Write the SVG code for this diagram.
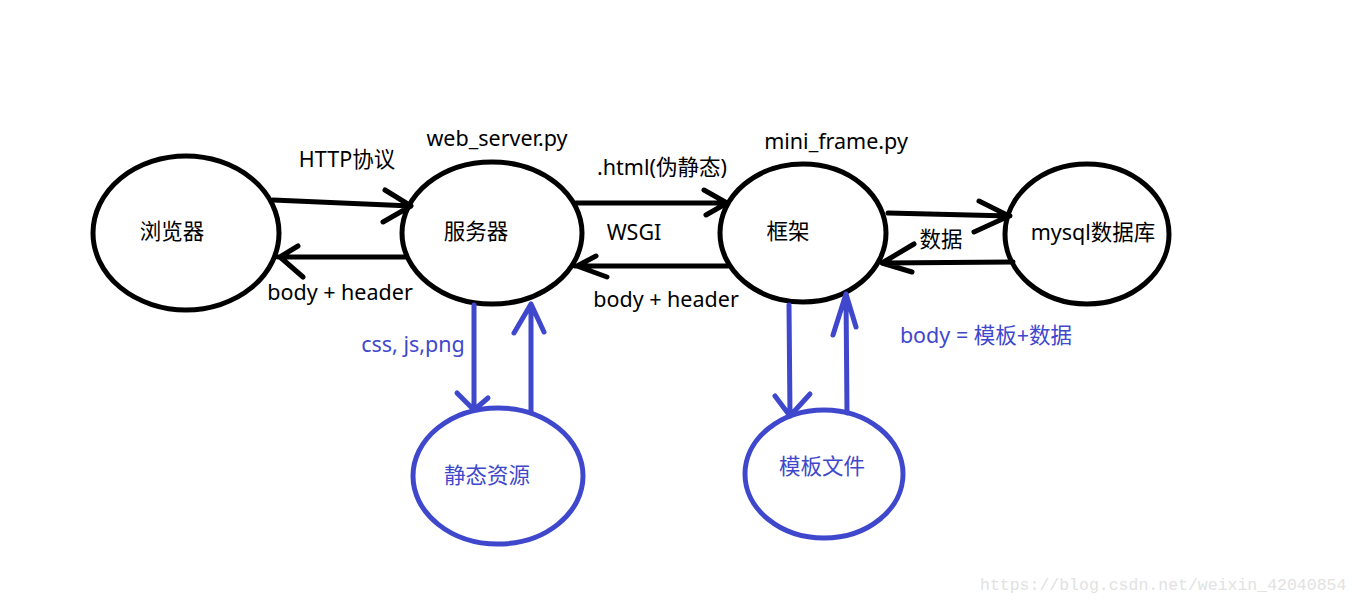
<svg xmlns="http://www.w3.org/2000/svg" width="1360" height="604" viewBox="0 0 1360 604">
<style>
.n{fill:none;stroke:#000;stroke-width:5}
.b{fill:none;stroke:#3f48cc;stroke-width:5}
.c{fill:none;stroke:#000;stroke-width:5;stroke-linecap:round;stroke-linejoin:round}
.cb{fill:none;stroke:#3f48cc;stroke-width:5;stroke-linecap:round;stroke-linejoin:round}
text{font-family:"Noto Sans","Noto Sans CJK SC",sans-serif;font-size:21.5px;fill:#000}
.t{fill:#3f48cc}
.w{font-family:"Liberation Mono",monospace;font-size:16.5px;fill:#e2e2e2}
</style>
<rect width="1360" height="604" fill="#fff"/>
<g id="browser"><ellipse class="n" cx="186" cy="233" rx="93" ry="77"/><text x="172" y="239" text-anchor="middle">浏览器</text></g>
<g id="server"><ellipse class="n" cx="492" cy="233" rx="90" ry="71"/><text x="476" y="239" text-anchor="middle">服务器</text><text x="497" y="146" text-anchor="middle">web_server.py</text></g>
<g id="frame"><ellipse class="n" cx="803" cy="233" rx="83" ry="69"/><text x="788" y="239" text-anchor="middle">框架</text><text x="836" y="149" text-anchor="middle">mini_frame.py</text></g>
<g id="mysql"><ellipse class="n" cx="1087" cy="234" rx="82" ry="70"/><text x="1093" y="240" text-anchor="middle">mysql数据库</text></g>
<g id="static"><ellipse class="b" cx="498" cy="476" rx="85" ry="68"/><text class="t" x="487" y="483" text-anchor="middle">静态资源</text></g>
<g id="template"><ellipse class="b" cx="824" cy="474" rx="79" ry="64"/><text class="t" x="822" y="474" text-anchor="middle">模板文件</text></g>
<g id="connectors">
<path class="c" d="M273 200 L411 206 M385 190 L411 206 L383 222"/>
<path class="c" d="M405 257 L278 257 M298 246 L280 257 L303 277"/>
<path class="c" d="M576 203 L727 203 M704 190 L727 203 L706 215"/>
<path class="c" d="M728 266 L575 266 M596 256 L577 266 L607 277"/>
<path class="c" d="M888 213 L1010 216 M979 201 L1009 216 L974 232"/>
<path class="c" d="M1013 262 L882 263 M914 244 L882 263 L912 272"/>
<path class="cb" d="M474 305 L474 410 M457 393 L474 410 L488 398"/>
<path class="cb" d="M531 412 L531 304 M514 333 L531 304 L544 332"/>
<path class="cb" d="M789 305 L790 416 M775 396 L790 416 L810 394"/>
<path class="cb" d="M847 413 L846 294 M833 335 L846 294 L856 327"/>
<text x="347" y="167" text-anchor="middle">HTTP协议</text>
<text x="340" y="300" text-anchor="middle">body + header</text>
<text x="662" y="175" text-anchor="middle">.html(伪静态)</text>
<text x="634" y="240" text-anchor="middle">WSGI</text>
<text x="666" y="307" text-anchor="middle">body + header</text>
<text x="941" y="247" text-anchor="middle">数据</text>
<text class="t" x="413" y="352" text-anchor="middle">css, js,png</text>
<text class="t" x="986" y="343" text-anchor="middle">body = 模板+数据</text>
</g>
<text class="w" x="980" y="590">https://blog.csdn.net/weixin_42040854</text>
</svg>
